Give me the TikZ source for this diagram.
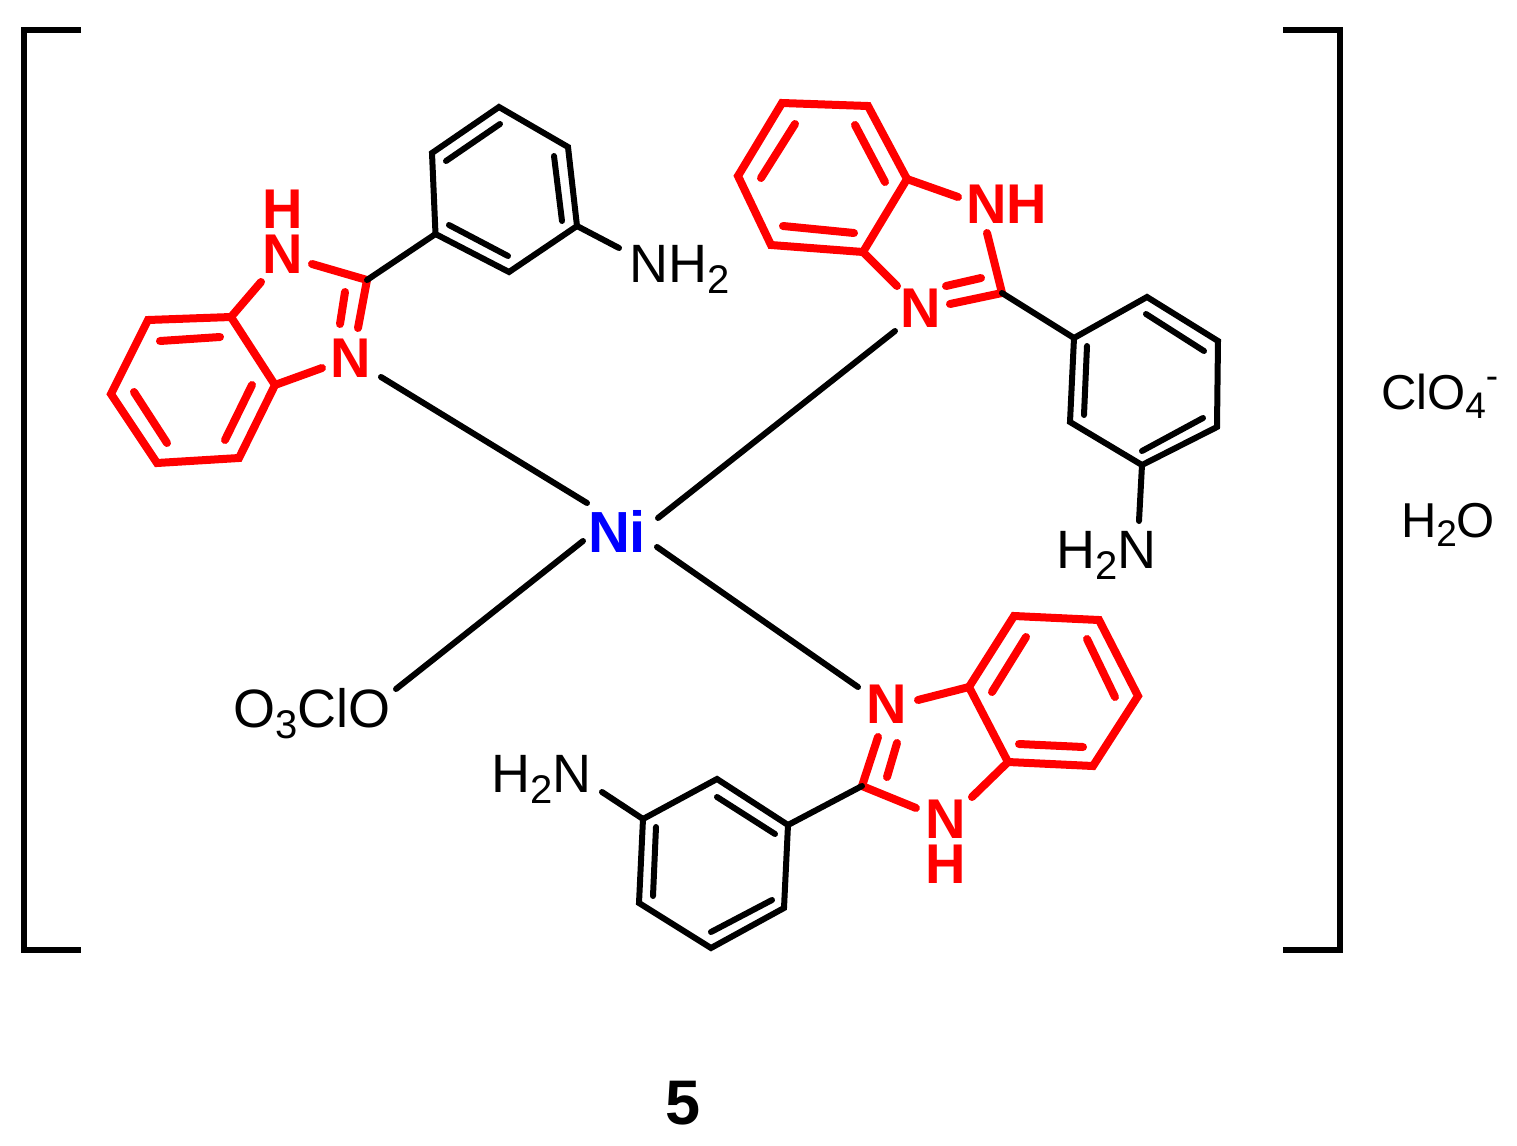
\documentclass[tikz,border=0pt]{standalone}
\usepackage{fontspec}
\setmainfont{Liberation Sans}
\newcommand{\sbs}[1]{\raisebox{-5.5pt}{\fontsize{20pt}{20pt}\selectfont #1}}
\newcommand{\sbss}[1]{\raisebox{-4.8pt}{\fontsize{18.5pt}{20pt}\selectfont #1}}
\newcommand{\spss}[1]{\raisebox{10.5pt}{\fontsize{18.5pt}{20pt}\selectfont #1}}
\tikzset{
  lbl/.style={inner sep=0pt,outer sep=0pt,anchor=base,font=\fontsize{27pt}{30pt}\selectfont},
  lblw/.style={lbl,anchor=base west},
  lbls/.style={lblw,font=\fontsize{24.5pt}{28pt}\selectfont},
  redatom/.style={lbl,text=red,font=\fontsize{28pt}{30pt}\selectfont\bfseries},
  redstack/.style={lbl,text=red,align=center,font=\fontsize{28pt}{22.5pt}\selectfont\bfseries},
  blueatom/.style={lbl,text=blue,font=\fontsize{29pt}{30pt}\selectfont\bfseries},
  blk/.style={draw=black,line width=3pt,line cap=round,line join=miter},
  rd/.style={draw=red,line width=4pt,line cap=round,line join=miter},
  brk/.style={draw=black,line width=3pt,line cap=butt,line join=miter}
}
\begin{document}
\begin{tikzpicture}[x=0.5pt,y=-0.5pt]
\useasboundingbox (0,0) rectangle (1517,1146);
% brackets
\coordinate (bl1) at (81,30); \coordinate (bl2) at (24,30); \coordinate (bl3) at (24,950); \coordinate (bl4) at (81,950);
\coordinate (br1) at (1283,30); \coordinate (br2) at (1340,30); \coordinate (br3) at (1340,950); \coordinate (br4) at (1283,950);
\draw[brk] (bl1) -- (bl2) -- (bl3) -- (bl4);
\draw[brk] (br1) -- (br2) -- (br3) -- (br4);
% labels
\node[blueatom] (ni) at (617,552) {Ni};
\node[redatom] (an1) at (351,377) {N};
\node[redstack] (ah1) at (283,273) {H\\N};
\node[redatom] (an2) at (921,327) {N};
\node[redatom] (anh2) at (1007,223) {NH};
\node[redatom] (an3) at (887,723) {N};
\node[redstack] (ah3) at (946,883) {N\\H};
\node[lblw] (nh2a) at (629.5,282) {NH\sbs{2}};
\node[lblw] (nh2b) at (1056,568) {H\sbs{2}N};
\node[lblw] (nh2c) at (491,792) {H\sbs{2}N};
\node[lblw] (oclo) at (233,727) {O\sbs{3}ClO};
\node[lbls] (clo4) at (1381,409) {ClO\sbss{4}\spss{-}};
\node[lbls] (water) at (1401,537) {H\sbss{2}O};
\node[lbl,font=\fontsize{31.5pt}{34pt}\selectfont\bfseries] (five) at (683,1124.5) {5};
% --- left ligand
\foreach \n/\p in {a1/{148,320},a2/{231,317},a3/{275,385},a4/{239,458},a5/{157,463},a6/{111,394},
  ai1/{160,341},ai2/{220,337},ai3/{252,385},ai4/{225,440},ai5/{134,392},ai6/{167,443},
  ac/{367,280},ae1/{261,282},ae2/{322,368},ae3/{312,264},ae4/{358,328},ae5/{345,292},ae6/{340,324},
  b1/{435.5,234},b2/{432,153},b3/{499,107},b4/{568,147},b5/{577,226},b6/{509,272},
  bi1/{446,161},bi2/{500,124},bi3/{554,156},bi4/{562,221},bi5/{449,225},bi6/{508,256},bn/{619,248},
  % right ligand
  c1/{782,103},c2/{868,106},c3/{907,179},c4/{863,252},c5/{771,245},c6/{738,176},
  ci1/{795,124},ci2/{761,178},ci3/{855,125},ci4/{885,182},ci5/{783,226},ci6/{854,233},
  cc/{1002,293},ce1/{958,197},ce2/{987,233},ce3/{950,304},ce4/{981,278},ce5/{946,286},ce6/{897,286},
  d1/{1074,338},d2/{1147,297},d3/{1218,341},d4/{1217,427},d5/{1142,465},d6/{1070,422},
  di1/{1146,314},di2/{1204,351},di3/{1087,346},di4/{1084,415},di5/{1142,451},di6/{1203,418},dn/{1139,521},
  % bottom ligand
  e1/{1014,616},e2/{1099,620},e3/{1138,696},e4/{1093,766},e5/{1008,762},e6/{969,687},
  ei1/{1026,637},ei2/{992,692},ei3/{1087,639},ei4/{1115,697},ei5/{1019,744},ei6/{1083,747},
  ec/{862,786},ee1/{918,700},ee2/{972,797},ee3/{916,808},ee4/{878,737},ee5/{887,777},ee6/{897,743},
  f1/{788,825},f2/{717,779},f3/{643,819},f4/{639,903},f5/{711,948},f6/{784,908},
  fi1/{775,834},fi2/{717,797},fi3/{656,827},fi4/{653,896},fi5/{711,932},fi6/{772,900},fn/{602,792},
  % metal bond ends
  m1a/{381,377},m1b/{587,503},m2a/{895,331},m2b/{658,518},m3a/{396,689},m3b/{583,541},m4a/{858,687},m4b/{657,547}}
  {\coordinate (\n) at (\p);}
% metal bonds
\draw[blk] (m1a) -- (m1b);
\draw[blk] (m2a) -- (m2b);
\draw[blk] (m3a) -- (m3b);
\draw[blk] (m4a) -- (m4b);
% red parts
\draw[rd] (a1) -- (a2) -- (a3) -- (a4) -- (a5) -- (a6) -- cycle;
\draw[rd] (ai1) -- (ai2); \draw[rd] (ai3) -- (ai4); \draw[rd] (ai5) -- (ai6);
\draw[rd] (a2) -- (ae1); \draw[rd] (a3) -- (ae2); \draw[rd] (ae3) -- (ac) -- (ae4); \draw[rd] (ae5) -- (ae6);
\draw[rd] (c1) -- (c2) -- (c3) -- (c4) -- (c5) -- (c6) -- cycle;
\draw[rd] (ci1) -- (ci2); \draw[rd] (ci3) -- (ci4); \draw[rd] (ci5) -- (ci6);
\draw[rd] (c3) -- (ce1); \draw[rd] (ce2) -- (cc) -- (ce3); \draw[rd] (ce4) -- (ce5); \draw[rd] (c4) -- (ce6);
\draw[rd] (e1) -- (e2) -- (e3) -- (e4) -- (e5) -- (e6) -- cycle;
\draw[rd] (ei1) -- (ei2); \draw[rd] (ei3) -- (ei4); \draw[rd] (ei5) -- (ei6);
\draw[rd] (e6) -- (ee1); \draw[rd] (e5) -- (ee2); \draw[rd] (ee3) -- (ec) -- (ee4); \draw[rd] (ee5) -- (ee6);
% black rings
\draw[blk] (b1) -- (b2) -- (b3) -- (b4) -- (b5) -- (b6) -- cycle;
\draw[blk] (bi1) -- (bi2); \draw[blk] (bi3) -- (bi4); \draw[blk] (bi5) -- (bi6);
\draw[blk] (ac) -- (b1); \draw[blk] (b5) -- (bn);
\draw[blk] (d1) -- (d2) -- (d3) -- (d4) -- (d5) -- (d6) -- cycle;
\draw[blk] (di1) -- (di2); \draw[blk] (di3) -- (di4); \draw[blk] (di5) -- (di6);
\draw[blk] (cc) -- (d1); \draw[blk] (d5) -- (dn);
\draw[blk] (f1) -- (f2) -- (f3) -- (f4) -- (f5) -- (f6) -- cycle;
\draw[blk] (fi1) -- (fi2); \draw[blk] (fi3) -- (fi4); \draw[blk] (fi5) -- (fi6);
\draw[blk] (ec) -- (f1); \draw[blk] (f3) -- (fn);
\end{tikzpicture}
\end{document}
